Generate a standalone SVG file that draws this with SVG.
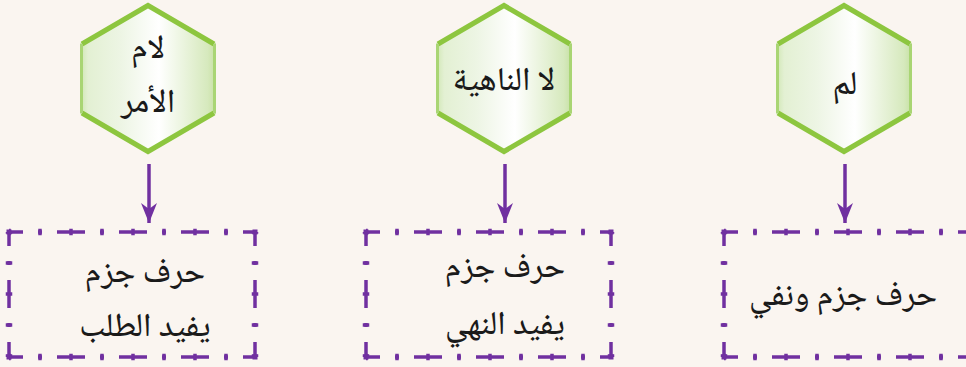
<svg xmlns="http://www.w3.org/2000/svg" width="966" height="367" viewBox="0 0 966 367">
  <style>
    .bg { fill: #faf5f0; }
    .hexfill { fill: url(#hexGrad); stroke: none; }
    .hexslant { fill: none; stroke: #8dc63f; stroke-width: 5; stroke-linejoin: miter; }
    .hexside { fill: none; stroke: #a9d574; stroke-width: 3; }
    .txt { font-family: "Noto Naskh Arabic", "Noto Sans Arabic", "DejaVu Sans", sans-serif; font-size: 33px; font-weight: 500; fill: #1a1a1a; text-anchor: middle; }
    .boxline { fill: none; stroke: #7030a0; stroke-width: 3.5; stroke-dasharray: 28 15 4 15; stroke-dashoffset: 14; }
    .boxtick { fill: none; stroke: #7030a0; stroke-width: 6.5; stroke-dasharray: 3.5 27.5; stroke-dashoffset: 1.75; }
    .corner { fill: #7030a0; }
    .conn { stroke: #7030a0; stroke-width: 3.5; fill: none; }
    .head { fill: #7030a0; }
  </style>
  <defs>
    <linearGradient id="hexGrad" x1="0" y1="0" x2="1" y2="0">
      <stop offset="0" stop-color="#cfe6b2"/>
      <stop offset="0.06" stop-color="#e3f0d3"/>
      <stop offset="0.3" stop-color="#edf5e4"/>
      <stop offset="0.58" stop-color="#ffffff"/>
      <stop offset="0.94" stop-color="#d6e9bd"/>
      <stop offset="1" stop-color="#c6e0a2"/>
    </linearGradient>
    <marker id="arrow" viewBox="0 0 20 16" refX="20" refY="8" markerWidth="20" markerHeight="16" markerUnits="userSpaceOnUse" orient="auto">
      <path d="M20 8 L0 0 L6 8 L0 16 Z" class="head"/>
    </marker>
  </defs>

  <rect class="bg" x="0" y="0" width="966" height="367"/>

  <!-- Hexagon nodes -->
  <g id="hex-lam-amr">
    <polygon class="hexfill" points="148,5.5 216,43 216,114 148,152 80,114 80,43"/>
    <polyline class="hexslant" points="82,44 148,5.5 214,44"/>
    <polyline class="hexslant" points="82,113 148,151.5 214,113"/>
    <line class="hexside" x1="81.5" y1="44" x2="81.5" y2="113"/>
    <line class="hexside" x1="214.5" y1="44" x2="214.5" y2="113"/>
    <text class="txt" x="148" y="58">لام</text>
    <text class="txt" x="148" y="112">الأمر</text>
  </g>

  <g id="hex-la-nahiya">
    <polygon class="hexfill" points="504,5.5 572,43 572,114 504,152 436,114 436,43"/>
    <polyline class="hexslant" points="438,44 504,5.5 570,44"/>
    <polyline class="hexslant" points="438,113 504,151.5 570,113"/>
    <line class="hexside" x1="437.5" y1="44" x2="437.5" y2="113"/>
    <line class="hexside" x1="570.5" y1="44" x2="570.5" y2="113"/>
    <text class="txt" x="504" y="90">لا الناهية</text>
  </g>

  <g id="hex-lam">
    <polygon class="hexfill" points="844,5.5 912,43 912,114 844,152 776,114 776,43"/>
    <polyline class="hexslant" points="778,44 844,5.5 910,44"/>
    <polyline class="hexslant" points="778,113 844,151.5 910,113"/>
    <line class="hexside" x1="777.5" y1="44" x2="777.5" y2="113"/>
    <line class="hexside" x1="910.5" y1="44" x2="910.5" y2="113"/>
    <text class="txt" x="845" y="94">لم</text>
  </g>

  <!-- Box nodes -->
  <g id="box-talab">
    <path class="boxline" d="M9,232 H255"/>
    <path class="boxline" d="M9,357 H255"/>
    <path class="boxline" d="M9,232 V357"/>
    <path class="boxline" d="M255,232 V357"/>
    <path class="boxtick" d="M9,232 H255"/>
    <path class="boxtick" d="M9,357 H255"/>
    <path class="boxtick" d="M9,232 V357"/>
    <path class="boxtick" d="M255,232 V357"/>
    <rect class="corner" x="6.5" y="229.5" width="5" height="5"/>
    <rect class="corner" x="252.5" y="229.5" width="5" height="5"/>
    <rect class="corner" x="6.5" y="354.5" width="5" height="5"/>
    <rect class="corner" x="252.5" y="354.5" width="5" height="5"/>
    <text class="txt" x="145" y="282">حرف جزم</text>
    <text class="txt" x="145" y="336">يفيد الطلب</text>
  </g>

  <g id="box-nahy">
    <path class="boxline" d="M366,232 H611"/>
    <path class="boxline" d="M366,357 H611"/>
    <path class="boxline" d="M366,232 V357"/>
    <path class="boxline" d="M611,232 V357"/>
    <path class="boxtick" d="M366,232 H611"/>
    <path class="boxtick" d="M366,357 H611"/>
    <path class="boxtick" d="M366,232 V357"/>
    <path class="boxtick" d="M611,232 V357"/>
    <rect class="corner" x="363.5" y="229.5" width="5" height="5"/>
    <rect class="corner" x="608.5" y="229.5" width="5" height="5"/>
    <rect class="corner" x="363.5" y="354.5" width="5" height="5"/>
    <rect class="corner" x="608.5" y="354.5" width="5" height="5"/>
    <text class="txt" x="505" y="277">حرف جزم</text>
    <text class="txt" x="505" y="334">يفيد النهي</text>
  </g>

  <g id="box-nafy">
    <path class="boxline" d="M724,232 H1000"/>
    <path class="boxline" d="M724,357 H1000"/>
    <path class="boxline" d="M724,232 V357"/>
    <path class="boxtick" d="M724,232 H1000"/>
    <path class="boxtick" d="M724,357 H1000"/>
    <path class="boxtick" d="M724,232 V357"/>
    <rect class="corner" x="721.5" y="229.5" width="5" height="5"/>
    <rect class="corner" x="721.5" y="354.5" width="5" height="5"/>
    <text class="txt" x="843" y="305">حرف جزم ونفي</text>
  </g>

  <!-- Connectors -->
  <g id="connectors">
    <line class="conn" x1="149" y1="164" x2="149" y2="223" marker-end="url(#arrow)"/>
    <line class="conn" x1="505" y1="164" x2="505" y2="223" marker-end="url(#arrow)"/>
    <line class="conn" x1="845" y1="164" x2="845" y2="223" marker-end="url(#arrow)"/>
  </g>
</svg>
